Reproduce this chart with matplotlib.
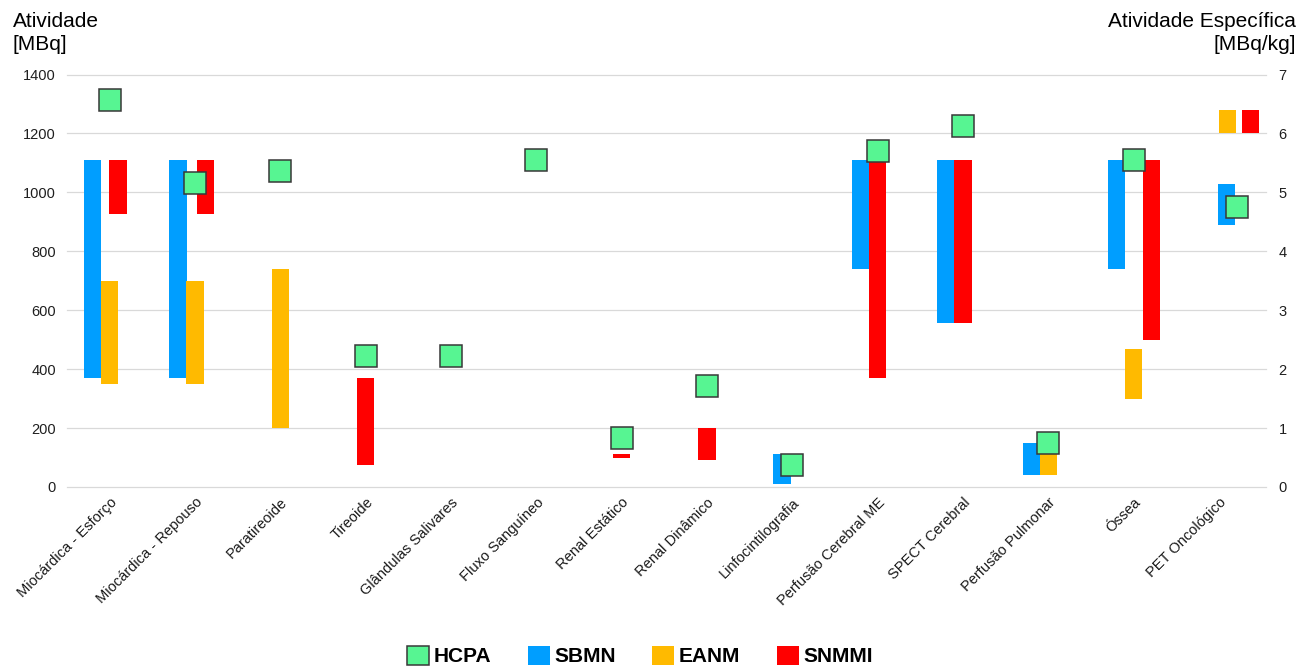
import numpy as np
import matplotlib
matplotlib.use("Agg")
import matplotlib.pyplot as plt
from matplotlib.patches import Patch

plt.rcParams['font.family'] = ['Liberation Sans', 'DejaVu Sans']

# categorias (as 13 primeiras em MBq, a ultima em MBq/kg)
exames = ['Miocárdica - Esforço', 'Miocárdica - Repouso', 'Paratireoide', 'Tireoide',
          'Glândulas Salivares', 'Fluxo Sanguíneo', 'Renal Estático', 'Renal Dinâmico',
          'Linfocintilografia', 'Perfusão Cerebral ME', 'SPECT Cerebral',
          'Perfusão Pulmonar', 'Óssea', 'PET Oncológico']

nan = np.nan
# faixas recomendadas [MBq] (min, max)
sbmn_min = [370, 370, nan, nan, nan, nan, nan, nan, 11, 740, 555, 40, 740]
sbmn_max = [1110, 1110, nan, nan, nan, nan, nan, nan, 111, 1110, 1110, 150, 1110]
eanm_min = [350, 350, 200, nan, nan, nan, nan, nan, nan, nan, nan, 40, 300]
eanm_max = [700, 700, 740, nan, nan, nan, nan, nan, nan, nan, nan, 150, 470]
snmmi_min = [925, 925, nan, 74, nan, nan, 100, 90, nan, 370, 555, nan, 500]
snmmi_max = [1110, 1110, nan, 370, nan, nan, 111, 200, nan, 1110, 1110, nan, 1110]
# atividade usada no HCPA [MBq]
hcpa = [1313, 1032, 1071, 444, 444, 1110, 166, 344, 73, 1142, 1224, 150, 1110]

# PET oncologico [MBq/kg]
pet_sbmn = (4.44, 5.15)
pet_eanm = (6.0, 6.4)
pet_snmmi = (6.0, 6.4)
pet_hcpa = 4.75

c_hcpa = '#57F592'
c_sbmn = '#009EFF'
c_eanm = '#FFBA00'
c_snmmi = '#FF0000'

# deslocamento horizontal das barras dentro de cada categoria
w = 0.205
desl_sbmn = [-0.2] * 8 + [-0.12] + [-0.2] * 4
desl_eanm = [0.0] * 13
desl_snmmi = [0.1, 0.125] + [0.0] * 10 + [0.21]

fig = plt.figure(figsize=(12.99, 6.67), dpi=100)
ax = fig.add_axes([67 / 1299, 1 - 487 / 667, 1199 / 1299, 412.5 / 667])
ax2 = ax.twinx()

x = np.arange(13)
for mn, mx, d, c in [(sbmn_min, sbmn_max, desl_sbmn, c_sbmn),
                     (eanm_min, eanm_max, desl_eanm, c_eanm),
                     (snmmi_min, snmmi_max, desl_snmmi, c_snmmi)]:
    mn = np.array(mn, float)
    mx = np.array(mx, float)
    ok = ~np.isnan(mn)
    ax.bar(x[ok] + np.array(d)[ok], mx[ok] - mn[ok], bottom=mn[ok], width=w,
           color=c, zorder=2)

ax.plot(x, hcpa, ls='none', marker='s', ms=15.8, mfc=c_hcpa, mec='#383838',
        mew=1.1, zorder=4)

# PET no eixo secundario
xp = 13
ax2.bar(xp + 0.09, pet_sbmn[1] - pet_sbmn[0], bottom=pet_sbmn[0], width=w, color=c_sbmn, zorder=2)
ax2.bar(xp + 0.1, pet_eanm[1] - pet_eanm[0], bottom=pet_eanm[0], width=w, color=c_eanm, zorder=2)
ax2.bar(xp + 0.37, pet_snmmi[1] - pet_snmmi[0], bottom=pet_snmmi[0], width=w, color=c_snmmi, zorder=2)
ax2.plot([xp + 0.21], [pet_hcpa], ls='none', marker='s', ms=15.8, mfc=c_hcpa,
         mec='#383838', mew=1.1, zorder=4)

ax.set_xlim(-0.5, 13.55)
ax.set_ylim(0, 1400)
ax2.set_ylim(0, 7)
ax.set_yticks(range(0, 1401, 200))
ax2.set_yticks(range(0, 8))
ax.yaxis.grid(True, color='#d9d9d9', lw=0.9, zorder=0)
for gl in ax.get_ygridlines():
    gl.set_clip_on(False)
ax.set_axisbelow(True)

for a in (ax, ax2):
    for s in a.spines.values():
        s.set_visible(False)
    a.tick_params(length=0, labelsize=10.5, labelcolor='#1f1f1f')
ax.tick_params(axis='y', pad=8)
ax2.tick_params(axis='y', pad=9)

ax.set_xticks(np.arange(14))
ax.set_xticklabels(exames, rotation=45, ha='right', rotation_mode='anchor',
                   fontsize=10.5, color='#1a1a1a')
ax.tick_params(axis='x', pad=6)

fig.text(13 / 1299, 1 - 12 / 667, 'Atividade\n[MBq]', fontsize=15, va='top',
         ha='left', linespacing=1.25)
fig.text(1296 / 1299, 1 - 12 / 667, 'Atividade Específica\n[MBq/kg]', fontsize=15,
         va='top', ha='right', linespacing=1.25, multialignment='right')

handles = [Patch(facecolor=c_hcpa, edgecolor='#383838', lw=1.1, label='HCPA'),
           Patch(facecolor=c_sbmn, label='SBMN'),
           Patch(facecolor=c_eanm, label='EANM'),
           Patch(facecolor=c_snmmi, label='SNMMI')]
fig.legend(handles=handles, loc='center', bbox_to_anchor=(640 / 1299, 1 - 656 / 667),
           ncol=4, frameon=False, prop={'weight': 'bold', 'size': 15},
           handlelength=1.05, handleheight=1.05, handletextpad=0.22, columnspacing=1.75)

fig.savefig('out.png', dpi=100)
